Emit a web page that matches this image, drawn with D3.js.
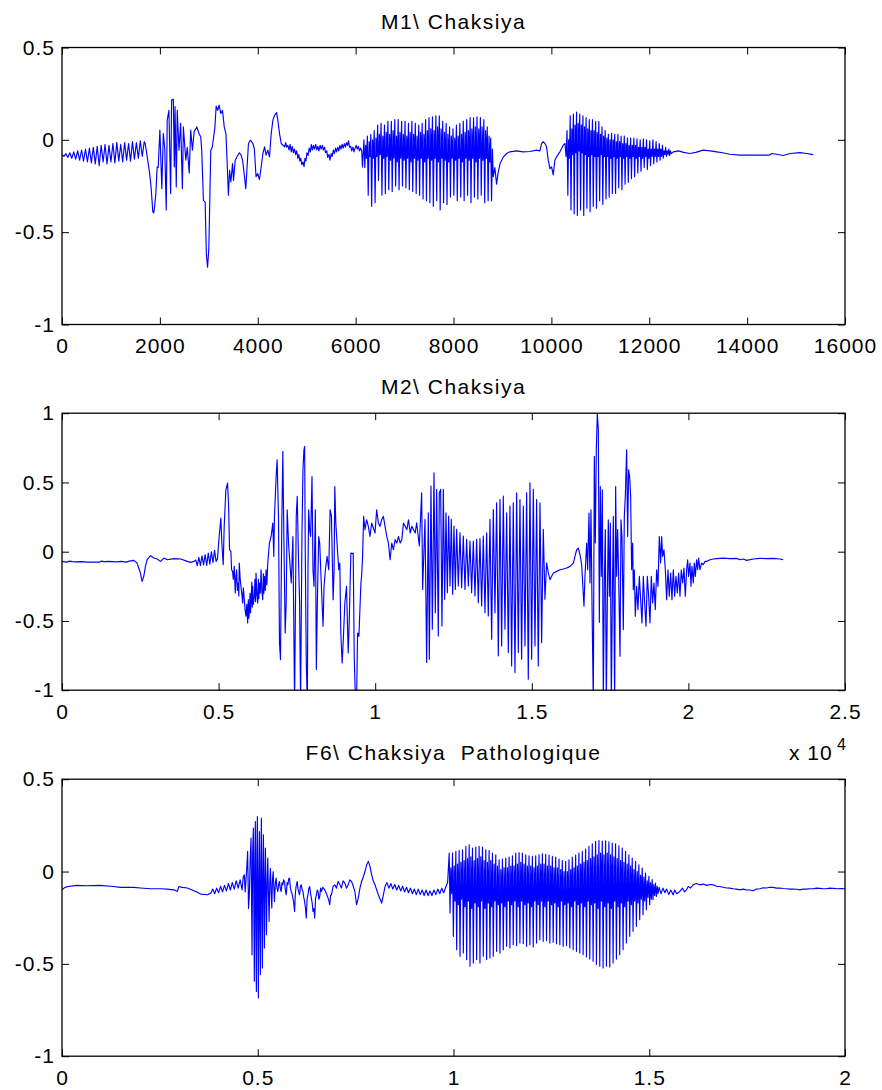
<!DOCTYPE html>
<html><head><meta charset="utf-8">
<script src="https://cdn.jsdelivr.net/npm/d3@7"></script>
<style>
body{margin:0;background:#fff}
svg text{font-family:"Liberation Sans",Arial,Helvetica,sans-serif;fill:#000}
</style></head>
<body><svg id="chart" width="882" height="1090"></svg>
<script>
// ---------------- data ----------------
const titles = ["M1\\ Chaksiya", "M2\\ Chaksiya", "F6\\ Chaksiya  Pathologique"];

const m1XTicks = [0,2000,4000,6000,8000,10000,12000,14000,16000];
const m1XLabels = ["0","2000","4000","6000","8000","10000","12000","14000","16000"];
const m1YTicks = [-1,-0.5,0,0.5];
const m1YLabels = ["-1","-0.5","0","0.5"];

const m2XTicks = [0,5000,10000,15000,20000,25000];
const m2XLabels = ["0","0.5","1","1.5","2","2.5"];
const m2YTicks = [-1,-0.5,0,0.5,1];
const m2YLabels = ["-1","-0.5","0","0.5","1"];

const f6XTicks = [0,5000,10000,15000,20000];
const f6XLabels = ["0","0.5","1","1.5","2"];
const f6YTicks = [-1,-0.5,0,0.5];
const f6YLabels = ["-1","-0.5","0","0.5"];

const xExponent = ["x 10","4"];

// ---- M1: [sample, amplitude] and glottal pulses [sample, peak, trough, upper level, lower level]
const m1Onset = [
[0,-0.08],[40,-0.09],[80,-0.075],[120,-0.095],[160,-0.07],[200,-0.1],[240,-0.065],[280,-0.105],[320,-0.06],[360,-0.11],
[400,-0.055],[440,-0.115],[480,-0.05],[520,-0.12],[560,-0.045],[600,-0.125],[640,-0.04],[680,-0.13],[720,-0.035],[760,-0.14],
[800,-0.03],[840,-0.12],[880,-0.025],[920,-0.13],[960,-0.03],[1000,-0.12],[1040,-0.02],[1080,-0.125],[1120,-0.015],[1160,-0.115],
[1200,-0.025],[1240,-0.12],[1280,-0.015],[1320,-0.11],[1360,-0.02],[1400,-0.115],[1440,-0.01],[1480,-0.105],[1520,-0.015],[1560,-0.1],
[1600,-0.005],[1640,-0.09],[1680,-0.01],[1700,-0.02],[1740,-0.09],[1790,-0.18],[1820,-0.255],[1856,-0.39],[1875,-0.395],[1890,-0.365],
[1918,-0.29],[1945,-0.147],[1966,-0.15],
[2000,0.053],[2040,-0.265],[2070,0.034],[2100,-0.05],[2130,-0.38],[2150,0.107],[2185,0.16],[2220,-0.29],[2240,0.215],[2275,0.22],
[2295,-0.147],[2310,0.18],[2335,-0.255],[2355,0.16],[2390,-0.056],[2425,0.089],[2460,-0.265],[2480,0.07],[2530,-0.11],[2560,-0.04],
[2600,-0.18],[2630,0.053],[2665,-0.056],[2700,0.043],[2755,0.07],[2800,0.034],[2835,0.016],[2855,-0.056],[2890,-0.328],[2925,-0.337],
[2950,-0.62],[2975,-0.69],[3000,-0.59],[3020,-0.33],[3040,-0.056],[3070,-0.04],[3095,0.007],[3125,0.07],[3150,0.183],[3180,0.16],
[3210,0.188],[3245,0.143],[3280,0.16],[3315,0.07],[3350,0.034],[3370,-0.092],[3400,-0.30],[3425,-0.165],[3450,-0.228],[3485,-0.128],
[3505,-0.22],[3540,-0.11],[3575,-0.092],[3625,-0.07],[3660,-0.083],[3690,-0.11],[3725,-0.19],[3755,-0.265],[3775,-0.18],[3810,-0.02],
[3850,-0.002],[3900,-0.02],[3930,-0.047],[3965,-0.2],[4000,-0.183],[4035,-0.215],[4070,-0.147],[4105,-0.074],[4140,-0.038],[4170,-0.083],
[4205,-0.056],[4240,-0.092],[4275,0.034],[4310,0.107],[4345,0.134],[4385,0.147],[4410,0.107],[4445,0.034],[4480,-0.02],[4550,-0.038],
[4570,-0.015],[4590,-0.04],[4615,-0.03],[4640,-0.055],[4660,-0.025],[4685,-0.065],[4705,-0.035],[4730,-0.07],[4750,-0.05],[4775,-0.08],
[4795,-0.06],[4820,-0.1],[4840,-0.08],[4860,-0.115],[4880,-0.1],[4900,-0.135],[4925,-0.12],[4945,-0.145],[4965,-0.1],[4985,-0.115],
[5005,-0.07],[5030,-0.085],[5050,-0.045],[5075,-0.065],[5095,-0.025],[5115,-0.055],[5140,-0.03],[5160,-0.05],[5185,-0.025],[5205,-0.055],
[5230,-0.035],[5250,-0.06],[5275,-0.03],[5295,-0.05],[5320,-0.03],[5340,-0.055],[5365,-0.04],[5385,-0.07],[5410,-0.06],[5430,-0.095],
[5455,-0.08],[5475,-0.11],[5500,-0.075],[5520,-0.09],[5545,-0.055],[5565,-0.075],[5590,-0.045],[5610,-0.065],[5635,-0.04],[5655,-0.06],
[5680,-0.03],[5700,-0.05],[5725,-0.025],[5745,-0.045],[5770,-0.02],[5790,-0.04],[5815,-0.015],[5835,-0.03],[5855,-0.005],[5875,-0.04],
[5900,-0.035],[5920,-0.06],[5945,-0.04],[5965,-0.065],[5990,-0.045],[6010,-0.03],[6035,-0.05],[6055,-0.035],[6080,-0.06],[6100,-0.045],
[6125,-0.06],[6140,-0.147]
];
const m1Pulses1 = [
[6170,0.0,-0.15,-0.03,-0.1],[6240,0.02,-0.30,-0.01,-0.09],[6310,0.03,-0.36,0.0,-0.1],[6380,0.05,-0.34,0.01,-0.09],
[6450,0.08,-0.22,0.03,-0.08],[6520,0.09,-0.30,0.02,-0.1],[6590,0.08,-0.29,0.04,-0.09],[6660,0.10,-0.27,0.03,-0.11],
[6730,0.10,-0.28,0.05,-0.1],[6800,0.11,-0.25,0.02,-0.12],[6870,0.11,-0.27,0.04,-0.1],[6940,0.10,-0.25,0.03,-0.11],
[7010,0.10,-0.26,0.02,-0.1],[7080,0.09,-0.27,0.04,-0.12],[7150,0.10,-0.28,0.03,-0.1],[7220,0.09,-0.29,0.02,-0.11],
[7290,0.08,-0.30,0.04,-0.1],[7360,0.09,-0.32,0.03,-0.12],[7430,0.11,-0.33,0.05,-0.1],[7500,0.12,-0.34,0.06,-0.11],
[7570,0.125,-0.36,0.05,-0.1],[7640,0.13,-0.33,0.07,-0.12],[7710,0.13,-0.38,0.06,-0.1],[7780,0.10,-0.34,0.04,-0.11],
[7850,0.09,-0.35,0.03,-0.12],[7920,0.07,-0.31,0.02,-0.1],[7990,0.06,-0.30,0.01,-0.11],[8060,0.08,-0.33,0.02,-0.1],
[8130,0.09,-0.31,0.03,-0.12],[8200,0.10,-0.33,0.04,-0.1],[8270,0.11,-0.30,0.05,-0.11],[8340,0.12,-0.34,0.06,-0.1],
[8410,0.12,-0.31,0.07,-0.12],[8480,0.125,-0.32,0.06,-0.1],[8550,0.12,-0.30,0.07,-0.11],[8620,0.11,-0.34,0.05,-0.1],
[8690,0.07,-0.33,0.02,-0.12],[8760,0.01,-0.33,-0.05,-0.2]
];
const m1Middle = [
[8845,-0.15],[8880,-0.24],[8910,-0.18],[8950,-0.13],[9020,-0.092],[9085,-0.074],[9150,-0.065],[9290,-0.06],[9420,-0.065],
[9560,-0.063],[9700,-0.056],[9766,-0.06],[9800,-0.02],[9834,-0.01],[9868,-0.02],[9902,-0.038],[9936,-0.11],[9970,-0.156],
[10004,-0.147],[10038,-0.19],[10072,-0.11],[10106,-0.092],[10174,-0.065],[10243,-0.029],[10277,-0.02],[10300,-0.09]
];
const m1Pulses2 = [
[10320,0.05,-0.30,0.0,-0.1],[10385,0.13,-0.38,0.06,-0.08],[10450,0.14,-0.40,0.08,-0.07],[10515,0.15,-0.41,0.09,-0.06],
[10580,0.14,-0.38,0.08,-0.07],[10645,0.13,-0.41,0.07,-0.08],[10710,0.12,-0.37,0.06,-0.09],[10775,0.11,-0.39,0.05,-0.08],
[10840,0.11,-0.36,0.05,-0.09],[10905,0.10,-0.37,0.04,-0.09],[10970,0.10,-0.33,0.03,-0.08],[11035,0.07,-0.35,0.02,-0.09],
[11100,0.05,-0.32,0.01,-0.09],[11165,0.03,-0.31,0.0,-0.1],[11230,0.035,-0.29,0.0,-0.09],[11295,0.03,-0.29,-0.01,-0.1],
[11360,0.03,-0.26,-0.01,-0.09],[11425,0.02,-0.27,-0.02,-0.1],[11490,0.02,-0.24,-0.02,-0.09],[11555,0.01,-0.23,-0.03,-0.1],
[11620,0.01,-0.21,-0.03,-0.09],[11685,0.01,-0.20,-0.03,-0.1],[11750,0.005,-0.18,-0.04,-0.09],[11815,0.0,-0.17,-0.04,-0.1],
[11880,0.005,-0.15,-0.04,-0.09],[11945,0.0,-0.16,-0.05,-0.1],[12010,-0.005,-0.14,-0.05,-0.09],[12075,0.0,-0.13,-0.05,-0.09],
[12140,-0.01,-0.12,-0.05,-0.09],[12205,-0.02,-0.11,-0.05,-0.09],[12270,-0.03,-0.10,-0.06,-0.08],[12335,-0.04,-0.09,-0.06,-0.08],
[12400,-0.05,-0.085,-0.06,-0.075]
];
const m1Tail = [
[12490,-0.065],[12600,-0.06],[12700,-0.068],[12830,-0.074],[12950,-0.068],[13100,-0.056],[13250,-0.06],[13375,-0.065],[13500,-0.07],
[13650,-0.078],[13850,-0.083],[14190,-0.083],[14460,-0.083],[14500,-0.074],[14600,-0.078],[14740,-0.085],[14880,-0.074],[15080,-0.069],
[15215,-0.074],[15350,-0.08]
];

// ---- M2: [sample, amplitude]
const m2Signal = [
[0,-0.07],[150,-0.075],[250,-0.068],[400,-0.074],[640,-0.072],[800,-0.075],[1200,-0.075],[1250,-0.068],[1350,-0.072],[1500,-0.07],
[1700,-0.073],[1900,-0.07],[2050,-0.075],[2150,-0.068],[2290,-0.0625],[2397,-0.082],[2450,-0.118],[2504,-0.154],[2557,-0.214],[2611,-0.178],
[2664,-0.106],[2718,-0.058],[2825,-0.029],[2932,-0.046],[3039,-0.053],[3146,-0.07],[3253,-0.046],[3360,-0.058],[3574,-0.05],[3788,-0.053],
[4002,-0.07],[4109,-0.077],[4216,-0.07],
[4270,-0.06],[4320,-0.1],[4370,-0.04],[4420,-0.1],[4470,-0.03],[4520,-0.095],[4570,-0.02],[4620,-0.1],[4670,-0.01],[4720,-0.09],
[4770,0.0],[4820,-0.08],[4870,0.01],[4920,-0.07],[4965,-0.05],
[5018,0.11],[5072,0.243],[5104,0.0625],[5147,-0.094],[5179,0.183],[5232,0.447],[5286,0.495],[5318,0.339],[5350,0.014],[5393,0.002],
[5414,-0.13],[5446,-0.142],[5470,-0.2],[5500,-0.106],[5532,-0.298],[5555,-0.18],[5575,-0.13],[5600,-0.28],[5628,-0.226],[5645,-0.32],
[5660,-0.082],[5690,-0.2],[5714,-0.25],[5740,-0.3],[5767,-0.37],[5790,-0.26],[5821,-0.346],[5845,-0.42],[5874,-0.466],[5900,-0.38],
[5928,-0.514],[5949,-0.346],[5965,-0.48],[5981,-0.442],[6005,-0.3],[6020,-0.44],[6035,-0.37],[6060,-0.22],[6075,-0.4],[6088,-0.25],
[6110,-0.38],[6142,-0.322],[6160,-0.2],[6180,-0.36],[6195,-0.154],[6220,-0.3],[6249,-0.37],[6270,-0.2],[6285,-0.34],[6302,-0.226],
[6330,-0.3],[6356,-0.13],[6380,-0.28],[6409,-0.346],[6430,-0.16],[6445,-0.3],[6463,-0.178],[6490,-0.28],[6516,-0.13],[6540,-0.24],
[6570,-0.082],[6623,0.0625],[6677,0.11],[6730,0.207],[6762,-0.034],[6784,0.255],
[6837,0.543],[6869,0.663],[6912,0.255],[6944,-0.659],[6976,-0.779],[7019,0.231],[7051,0.724],[7084,0.11],[7126,-0.587],[7158,-0.37],
[7190,0.303],[7233,0.0625],[7276,-0.082],[7319,-0.226],[7372,0.11],[7426,-1.1],[7479,0.255],[7511,0.40],[7554,-0.082],[7586,-0.37],
[7618,-1.1],[7661,0.11],[7693,0.591],[7725,0.736],[7747,0.76],[7768,-0.034],[7800,-0.803],[7833,-1.1],[7854,-0.13],[7875,0.303],
[7907,0.159],[7939,0.11],[7982,0.543],[8014,-0.13],[8046,-0.25],[8089,0.303],[8121,-0.851],[8153,-0.37],[8196,0.11],[8228,0.0625],
[8282,-0.25],[8335,-0.538],[8367,-0.25],[8410,-0.13],[8464,-0.034],[8517,-0.13],[8560,0.303],[8603,0.255],[8656,-0.346],[8688,-0.13],
[8710,0.471],[8742,0.207],[8795,0.014],[8838,-0.13],[8870,-0.082],[8902,-0.587],[8945,-0.803],[8977,-0.659],[9031,-0.37],[9084,-0.25],
[9138,-0.731],[9170,-0.514],[9223,-0.01],[9266,-0.014],[9298,-0.01],[9330,-0.755],[9373,-1.1],[9405,-1.1],[9437,-0.587],[9480,-0.611],
[9512,-0.418],[9544,-0.226],[9566,-0.178],[9598,-0.034],[9630,0.255],[9673,0.159],[9726,0.231],[9780,0.183],[9833,0.11],[9887,0.207],
[9994,0.135],[10047,0.303],[10101,0.207],[10154,0.183],[10208,0.231],[10261,0.255],[10315,0.183],[10369,0.11],[10422,0.0625],[10475,-0.058],
[10529,0.0625],[10582,0.014],[10636,0.087],[10690,0.0625],[10743,0.11],[10797,0.0625],[10850,0.087],[10903,0.207],[10957,0.183],[11010,0.159],
[11064,0.231],[11117,0.135],[11171,0.183],[11224,0.159],[11278,0.135],
[11324,0.209],[11409,0.041],[11483,0.425],[11515,-0.272],[11590,0.233],[11643,-0.80],[11696,0.281],[11728,-0.776],[11781,0.474],[11824,-0.56],
[11877,0.57],[11920,-0.44],[11962,0.45],[12015,-0.608],[12047,0.425],[12090,0.45],[12132,-0.536],[12175,0.45],[12218,-0.344],[12260,0.281],
[12303,-0.296],[12345,0.257],[12388,-0.248],[12430,0.233],[12473,-0.308],[12515,0.185],[12558,-0.272],[12601,0.161],[12654,-0.248],[12707,0.137],
[12760,-0.26],[12813,0.113],[12867,-0.272],[12920,0.089],[12973,-0.248],[13026,0.077],[13079,-0.296],[13133,0.077],[13186,-0.32],[13239,0.089],
[13292,-0.368],[13345,0.094],[13399,-0.392],[13452,0.113],[13505,-0.44],[13558,0.137],[13611,-0.464],[13665,0.233],[13718,-0.632],[13771,0.305],
[13824,-0.44],[13877,0.353],[13931,-0.752],[13984,0.377],[14037,-0.68],[14090,0.401],[14143,-0.56],[14197,0.281],[14250,-0.728],[14303,0.329],
[14356,-0.825],[14409,0.353],[14463,-0.873],[14516,0.425],[14569,-0.728],[14622,0.377],[14675,-0.776],[14729,0.329],[14782,-0.68],[14835,0.425],
[14888,-0.921],[14941,0.498],[14995,-0.776],[15048,0.45],[15101,-0.68],[15154,0.377],[15207,-0.825],[15261,0.353],[15314,-0.656],[15367,0.161],
[15420,-0.344],[15473,-0.08],
[15528,-0.154],[15581,-0.202],[15634,-0.178],[15688,-0.154],[15794,-0.142],[15900,-0.13],[16007,-0.125],[16113,-0.118],[16220,-0.106],[16326,-0.082],
[16379,-0.034],[16432,0.014],[16486,0.026],[16539,-0.022],[16592,-0.094],[16624,-0.226],[16666,-0.394],[16698,-0.178],[16752,0.0625],[16784,-0.13],
[16826,0.279],[16858,-0.226],[16890,0.303],[16922,-0.37],[16964,-1.1],[16996,0.688],[17028,0.0625],[17060,0.736],[17092,1.0],[17124,0.88],
[17156,-0.51],[17188,0.471],[17220,-0.178],[17252,0.447],[17284,-1.1],[17316,-0.226],[17347,0.159],[17379,-1.1],[17411,-0.37],[17443,0.231],
[17475,-0.322],[17507,0.207],[17539,-1.1],[17571,-0.346],[17603,0.255],[17645,-1.1],[17677,0.471],[17709,-0.178],[17741,0.159],[17773,-0.178],
[17816,-0.755],[17848,0.231],[17879,0.11],[17922,-0.5625],[17954,0.255],[17986,0.40],[18028,0.736],[18060,0.11],[18092,0.591],[18124,0.543],
[18156,0.40],[18188,-0.13],[18220,0.0625],[18241,-0.274],[18273,-0.13],[18305,-0.466],[18348,-0.25],[18390,-0.418],[18433,-0.178],[18475,-0.346],
[18518,-0.514],[18560,-0.178],[18603,-0.37],[18646,-0.538],[18688,-0.178],[18731,-0.322],[18773,-0.514],[18816,-0.178],[18858,-0.37],[18901,-0.226],
[18943,-0.418],[18986,-0.13],[19029,-0.25],[19071,0.11],[19114,-0.082],[19146,0.11],[19178,-0.034],[19220,0.014],[19263,-0.13],[19305,-0.346],
[19348,-0.13],[19390,-0.322],[19433,-0.154],[19475,-0.346],[19518,-0.13],[19561,-0.322],[19603,-0.178],[19646,-0.298],[19688,-0.154],[19731,-0.322],
[19773,-0.13],[19816,-0.226],[19858,-0.118],[19901,-0.322],[19944,-0.13],[19976,-0.058],[20007,-0.178],[20050,-0.082],[20082,-0.25],[20114,-0.106],
[20156,-0.226],[20188,-0.082],[20220,-0.178],[20263,-0.058],[20295,-0.13],[20327,-0.046],[20369,-0.13],[20422,-0.082],[20476,-0.094],[20529,-0.07],
[20582,-0.07],[20688,-0.058],[20795,-0.053],[20901,-0.05],[21114,-0.046],[21327,-0.05],[21540,-0.048],[21646,-0.058],[21752,-0.053],[21859,-0.0625],
[22072,-0.053],[22284,-0.048],[22497,-0.05],[22710,-0.048],[22923,-0.053],[23029,-0.058]
];

// ---- F6: [sample, amplitude] and pulses [sample, peak, trough, upper level, lower level]
const f6Onset = [
[0,-0.099],[77,-0.086],[163,-0.081],[377,-0.075],[633,-0.077],[976,-0.075],[1318,-0.081],[1489,-0.086],[1661,-0.086],[1832,-0.086],
[2003,-0.089],[2260,-0.093],[2517,-0.093],[2688,-0.095],[2859,-0.099],[2945,-0.108],[2987,-0.081],[3073,-0.086],[3201,-0.089],[3373,-0.104],
[3544,-0.122],[3715,-0.126],[3801,-0.117],[3850,-0.095],[3900,-0.12],[3950,-0.09],[4000,-0.115],[4050,-0.08],[4100,-0.11],[4150,-0.075],
[4200,-0.105],[4250,-0.065],[4300,-0.1],[4350,-0.06],[4400,-0.095],[4450,-0.05],[4500,-0.09],[4550,-0.045],[4600,-0.1],[4630,-0.03],
[4657,-0.018],[4680,-0.11],
[4720,0.02],[4742,0.109],[4765,-0.2],[4785,-0.126],[4805,0.05],[4828,0.181],[4840,-0.1],[4854,-0.45],[4870,0.1],[4888,0.235],[4900,-0.2],
[4913,-0.594],[4926,0.05],[4939,0.271],[4952,-0.3],[4965,-0.649],[4978,0.1],[4990,0.298],[5003,-0.25],[5016,-0.685],[5029,0.0],
[5042,0.217],[5055,-0.3],[5068,-0.558],[5080,0.05],[5093,0.289],[5106,-0.2],[5119,-0.522],[5132,0.0],[5145,0.199],[5158,-0.15],
[5170,-0.414],[5183,-0.05],[5196,0.127],[5209,-0.1],[5222,-0.342],[5240,-0.05],[5256,0.073],[5273,-0.12],[5290,-0.27],[5307,-0.06],
[5324,0.018],[5340,-0.1],[5359,-0.198],[5375,-0.05],[5393,0.0],[5410,-0.08],[5427,-0.162],[5450,-0.06],[5470,-0.036],[5490,-0.09],[5513,-0.108],
[5535,-0.07],[5555,-0.054],[5575,-0.09],[5598,-0.108],[5620,-0.06],[5641,-0.072],[5660,-0.045],[5684,-0.054],[5705,-0.1],[5727,-0.126],
[5750,-0.06],[5769,-0.072],[5790,-0.04],[5812,-0.036],[5835,-0.09],[5855,-0.108],[5875,-0.12],[5898,-0.144],[5920,-0.17],[5941,-0.216],
[5960,-0.12],[5975,-0.089],[5990,-0.07],[6009,-0.054],[6025,-0.09],[6043,-0.108],[6069,-0.126],[6090,-0.08],[6112,-0.072],[6135,-0.1],
[6155,-0.108],[6175,-0.14],[6197,-0.162],[6220,-0.2],[6240,-0.252],[6260,-0.15],[6283,-0.126],[6305,-0.09],[6326,-0.081],[6350,-0.12],
[6369,-0.144],[6390,-0.17],[6411,-0.216],[6435,-0.2],[6454,-0.252],[6475,-0.15],[6497,-0.126],[6520,-0.1],[6540,-0.108],[6560,-0.15],
[6583,-0.135],[6605,-0.09],[6625,-0.108],[6665,-0.085],[6711,-0.099],[6755,-0.12],[6797,-0.144],[6820,-0.16],[6839,-0.18],[6860,-0.13],
[6882,-0.126],[6925,-0.08],[6968,-0.072],[7010,-0.09],[7053,-0.054],[7095,-0.07],[7139,-0.089],[7180,-0.05],[7225,-0.063],[7265,-0.09],
[7310,-0.072],[7350,-0.045],[7396,-0.054],[7440,-0.08],[7481,-0.108],[7524,-0.18],[7567,-0.144],[7610,-0.09],[7653,-0.054],[7695,-0.03],
[7738,0.0],[7780,0.035],[7824,0.055],[7867,0.028],[7909,-0.018],[7950,-0.05],[7995,-0.072],[8040,-0.1],[8081,-0.126],[8125,-0.15],
[8166,-0.171],[8209,-0.126],[8252,-0.081],
[8300,-0.06],[8350,-0.09],[8400,-0.065],[8450,-0.095],[8500,-0.07],[8550,-0.1],[8600,-0.075],[8650,-0.105],[8700,-0.08],[8750,-0.11],
[8800,-0.085],[8850,-0.115],[8900,-0.09],[8950,-0.12],[9000,-0.095],[9050,-0.125],[9100,-0.095],[9150,-0.125],[9200,-0.1],[9250,-0.13],
[9300,-0.1],[9350,-0.13],[9400,-0.105],[9450,-0.13],[9500,-0.1],[9550,-0.125],[9600,-0.095],[9650,-0.12],[9700,-0.09],[9750,-0.115],
[9800,-0.085],[9850,-0.06]
];
const f6Pulses = [
[9890,0.100,-0.225,0.02,-0.12],[9975,0.100,-0.351,0.03,-0.16],[10060,0.109,-0.423,0.04,-0.18],[10145,0.114,-0.459,0.05,-0.15],
[10230,0.118,-0.441,0.06,-0.19],[10315,0.136,-0.477,0.07,-0.16],[10400,0.145,-0.513,0.08,-0.2],[10485,0.127,-0.495,0.06,-0.17],
[10570,0.132,-0.477,0.07,-0.19],[10655,0.136,-0.495,0.08,-0.16],[10740,0.132,-0.459,0.06,-0.2],[10825,0.118,-0.477,0.05,-0.17],
[10910,0.114,-0.468,0.06,-0.19],[10995,0.100,-0.459,0.04,-0.16],[11080,0.091,-0.432,0.03,-0.18],[11165,0.064,-0.441,0.01,-0.17],
[11250,0.067,-0.423,0.02,-0.19],[11335,0.073,-0.405,0.02,-0.16],[11420,0.078,-0.414,0.03,-0.18],[11505,0.085,-0.396,0.03,-0.16],
[11590,0.100,-0.401,0.04,-0.19],[11675,0.103,-0.387,0.05,-0.16],[11760,0.100,-0.391,0.04,-0.18],[11845,0.091,-0.405,0.03,-0.17],
[11930,0.085,-0.396,0.03,-0.19],[12015,0.082,-0.409,0.02,-0.16],[12100,0.085,-0.387,0.03,-0.18],[12185,0.091,-0.369,0.04,-0.16],
[12270,0.096,-0.378,0.04,-0.19],[12355,0.093,-0.373,0.03,-0.16],[12440,0.089,-0.387,0.03,-0.18],[12525,0.082,-0.383,0.02,-0.17],
[12610,0.078,-0.391,0.02,-0.19],[12695,0.067,-0.396,0.01,-0.16],[12780,0.060,-0.405,0.0,-0.18],[12865,0.055,-0.401,0.0,-0.17],
[12950,0.064,-0.414,0.01,-0.19],[13035,0.078,-0.423,0.02,-0.16],[13120,0.089,-0.432,0.03,-0.18],[13205,0.100,-0.441,0.04,-0.17],
[13290,0.109,-0.45,0.05,-0.19],[13375,0.121,-0.463,0.06,-0.16],[13460,0.136,-0.474,0.07,-0.18],[13545,0.150,-0.486,0.08,-0.17],
[13630,0.163,-0.504,0.09,-0.2],[13715,0.168,-0.513,0.1,-0.16],[13800,0.165,-0.522,0.09,-0.19],[13885,0.166,-0.513,0.1,-0.17],
[13970,0.161,-0.517,0.09,-0.2],[14055,0.154,-0.495,0.08,-0.16],[14140,0.150,-0.474,0.07,-0.19],[14225,0.139,-0.45,0.06,-0.17],
[14310,0.127,-0.423,0.05,-0.19],[14395,0.109,-0.387,0.04,-0.16],[14480,0.091,-0.351,0.03,-0.18],[14565,0.073,-0.324,0.01,-0.16],
[14650,0.055,-0.297,0.0,-0.17],[14735,0.037,-0.261,-0.02,-0.15],[14820,0.019,-0.234,-0.03,-0.16],[14905,-0.008,-0.207,-0.05,-0.14],
[14990,-0.026,-0.18,-0.06,-0.15],[15075,-0.044,-0.153,-0.07,-0.13],[15160,-0.063,-0.135,-0.08,-0.12]
];
const f6Tail = [
[15250,-0.085],[15300,-0.12],[15350,-0.09],[15400,-0.115],[15441,-0.095],[15500,-0.125],[15550,-0.1],[15611,-0.126],[15650,-0.1],
[15700,-0.12],[15781,-0.108],[15850,-0.09],[15900,-0.11],[15951,-0.099],[16000,-0.08],[16050,-0.09],[16122,-0.072],[16200,-0.065],[16292,-0.072],
[16380,-0.068],[16462,-0.075],[16550,-0.07],[16632,-0.072],[16720,-0.08],[16802,-0.081],[16890,-0.085],[16973,-0.089],[17060,-0.09],[17143,-0.093],
[17230,-0.095],[17313,-0.099],[17400,-0.095],[17483,-0.099],[17570,-0.1],[17653,-0.104],[17740,-0.095],[17824,-0.093],[17910,-0.088],[17994,-0.089],
[18080,-0.085],[18164,-0.086],[18250,-0.09],[18334,-0.089],[18420,-0.092],[18505,-0.093],[18590,-0.095],[18675,-0.095],[18760,-0.096],[18845,-0.099],
[18930,-0.095],[19015,-0.095],[19100,-0.093],[19185,-0.093],[19270,-0.09],[19356,-0.091],[19440,-0.093],[19526,-0.093],[19610,-0.09],[19696,-0.091],
[19800,-0.093],[19900,-0.092],[20000,-0.093]
];

// expand each glottal pulse (peak, trough, upper, lower) across its own period
function pulsePoints(pulses) {
  const pts = [];
  pulses.forEach((p, i) => {
    const dx = i < pulses.length - 1 ? pulses[i + 1][0] - p[0] : p[0] - pulses[i - 1][0];
    pts.push([p[0], p[1]], [p[0] + dx * 0.25, p[2]], [p[0] + dx * 0.5, p[3]], [p[0] + dx * 0.75, p[4]]);
  });
  return pts;
}

const m1Signal = [...m1Onset, ...pulsePoints(m1Pulses1), ...m1Middle, ...pulsePoints(m1Pulses2), ...m1Tail];
const f6Signal = [...f6Onset, ...pulsePoints(f6Pulses), ...f6Tail];

// ---------------- drawing ----------------
const svg = d3.select("#chart");
svg.append("rect").attr("width",882).attr("height",1090).attr("fill","#fff");

const FONT = 21;
const left = 62, right = 845, plotH = 277;

const panels = [
  {title: titles[0], data: m1Signal, xMax: 16000, yDom: [-1, 0.5], xt: m1XTicks, xl: m1XLabels, yt: m1YTicks, yl: m1YLabels, top: 47.5},
  {title: titles[1], data: m2Signal, xMax: 25000, yDom: [-1, 1],   xt: m2XTicks, xl: m2XLabels, yt: m2YTicks, yl: m2YLabels, top: 413.2, exp: true},
  {title: titles[2], data: f6Signal, xMax: 20000, yDom: [-1, 0.5], xt: f6XTicks, xl: f6XLabels, yt: f6YTicks, yl: f6YLabels, top: 779.2}
];

function styleAxis(g) {
  g.select(".domain").remove();
  g.attr("font-size", FONT).attr("font-family", '"Liberation Sans", Arial, sans-serif').attr("color", "#000");
  g.selectAll("text").attr("letter-spacing", "1px");
  g.selectAll("line").attr("stroke-width", 1);
}

panels.forEach((p, i) => {
  const x = d3.scaleLinear().domain([0, p.xMax]).range([left, right]);
  const y = d3.scaleLinear().domain(p.yDom).range([p.top + plotH, p.top]);
  const g = svg.append("g");

  const clipId = "clip" + i;
  svg.append("clipPath").attr("id", clipId)
    .append("rect").attr("x", left).attr("y", p.top).attr("width", right - left).attr("height", plotH);

  g.append("path").datum(p.data)
    .attr("d", d3.line().x(d => x(d[0])).y(d => y(d[1])))
    .attr("fill", "none").attr("stroke", "#0000ff").attr("stroke-width", 1.15)
    .attr("stroke-linejoin", "round").attr("clip-path", `url(#${clipId})`);

  const fx = d => p.xl[p.xt.indexOf(d)];
  const fy = d => p.yl[p.yt.indexOf(d)];

  g.append("g").attr("transform", `translate(0,${p.top + plotH})`)
    .call(d3.axisBottom(x).tickValues(p.xt).tickFormat(fx).tickSizeInner(-7).tickSizeOuter(0).tickPadding(13.5))
    .call(styleAxis);
  g.append("g").attr("transform", `translate(0,${p.top})`)
    .call(d3.axisTop(x).tickValues(p.xt).tickFormat("").tickSizeInner(-7).tickSizeOuter(0))
    .call(styleAxis);
  g.append("g").attr("transform", `translate(${left},0)`)
    .call(d3.axisLeft(y).tickValues(p.yt).tickFormat(fy).tickSizeInner(-7).tickSizeOuter(0).tickPadding(7))
    .call(styleAxis);
  g.append("g").attr("transform", `translate(${right},0)`)
    .call(d3.axisRight(y).tickValues(p.yt).tickFormat("").tickSizeInner(-7).tickSizeOuter(0))
    .call(styleAxis);

  g.append("rect").attr("x", left).attr("y", p.top).attr("width", right - left).attr("height", plotH)
    .attr("fill", "none").attr("stroke", "#000").attr("stroke-width", 1.3);

  g.append("text").attr("x", (left + right) / 2).attr("y", p.top - 19)
    .attr("text-anchor", "middle").attr("font-size", FONT).attr("letter-spacing", "1.5px")
    .style("white-space", "pre").text(p.title);

  if (p.exp) {
    const ey = p.top + plotH + 69.5;
    svg.append("text").attr("x", 789).attr("y", ey).attr("font-size", FONT)
      .attr("letter-spacing", "1px").style("white-space", "pre").text(xExponent[0]);
    svg.append("text").attr("x", 837).attr("y", ey - 10).attr("font-size", 16).text(xExponent[1]);
  }
});
</script>
</body></html>
